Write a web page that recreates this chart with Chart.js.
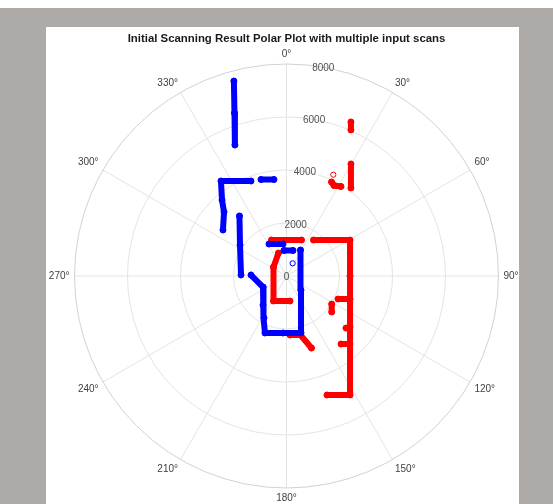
<!DOCTYPE html>
<html>
<head>
<meta charset="utf-8">
<script src="https://cdn.jsdelivr.net/npm/chart.js@4"></script>
<style>
html,body{margin:0;padding:0;background:#fff;}
canvas{display:block;}
</style>
</head>
<body>
<canvas id="c" width="553" height="504"></canvas>
<script>
// ---- data (theta in degrees, clockwise from 0° at top; r in range units) ----
const titleText = 'Initial Scanning Result Polar Plot with multiple input scans';
const angleTicks = [0, 30, 60, 90, 120, 150, 180, 210, 240, 270, 300, 330];
const angleTickLabels = ['0°', '30°', '60°', '90°', '120°', '150°', '180°', '210°', '240°', '270°', '300°', '330°'];
const rTicks = [0, 2000, 4000, 6000, 8000];
const rTickLabels = ['0', '2000', '4000', '6000', '8000'];
const rMax = 8000;

// scan 1 (blue) - null separates wall segments
const blueTheta = [344.9, 342.3, 338.5, null,
  339.5, 325.4, 319.7, 315.7, 305.9, null,
  345.2, 352.6, null,
  321.9, 303.7, 271.3, null,
  271.6, 244.9, 219.0, 208.2, 200.7, 183.5, 165.7, 134.0, 28.3, null,
  331.3, 353.8, null,
  354.4, 14.3];
const blueR = [7621, 6457, 5312, null,
  3827, 4355, 3762, 3376, 2959, null,
  3767, 3672, null,
  2877, 2109, 1717, null,
  1340, 979, 1409, 1798, 2299, 2155, 2220, 760, 1114, null,
  1376, 1215, null,
  967, 993];
const blueSingleTheta = [26.0];
const blueSingleR = [533];

// scan 2 (red)
const redTheta = [22.7, 23.8, null,
  29.9, 36.2, null,
  25.6, 27.7, 31.3, null,
  337.4, 22.6, null,
  36.9, 60.5, 90.0, 151.9, 161.2, null,
  114.1, 109.9, null,
  121.8, 128.5, null,
  131.2, 128.8, null,
  141.3, 137.0, null,
  340.8, 304.7, 207.5, 172.0, null,
  176.6, 166.7, 160.9];
const redR = [6301, 6024, null,
  4878, 4118, null,
  3933, 3857, 3955, null,
  1472, 1472, null,
  1698, 2755, 2397, 5091, 4744, null,
  2129, 2549, null,
  2007, 2181, null,
  2982, 3073, null,
  3289, 3511, null,
  919, 597, 1063, 953, null,
  2231, 2288, 2877];
const redSingleTheta = [24.8];
const redSingleR = [4212];

// ---- helpers ----
function toXY(thetaArr, rArr) {
  return thetaArr.map((t, i) => {
    const r = rArr[i];
    if (t === null || r === null) return {x: null, y: null};
    const a = t * Math.PI / 180;
    return {x: r * Math.sin(a), y: r * Math.cos(a)};
  });
}

const cx0 = 286.5, cy0 = 276, R0 = 212;
const W = 553, H = 504;

const polarPlugin = {
  id: 'polarGrid',
  beforeDraw(chart) {
    const ctx = chart.ctx;
    ctx.save();
    ctx.fillStyle = '#ffffff';
    ctx.fillRect(0, 0, W, H);
    ctx.fillStyle = '#aeaaa8';
    ctx.fillRect(0, 8, W, H - 8);
    ctx.fillStyle = '#ffffff';
    ctx.fillRect(46, 27, 473, H - 27);
    // title
    ctx.fillStyle = '#1a1a1a';
    ctx.font = 'bold 11.4px "Liberation Sans", Arial, sans-serif';
    ctx.textAlign = 'center';
    ctx.textBaseline = 'middle';
    ctx.fillText(titleText, cx0, 39);
    ctx.restore();
  },
  beforeDatasetsDraw(chart) {
    const ctx = chart.ctx;
    const xs = chart.scales.x, ys = chart.scales.y;
    const cx = xs.getPixelForValue(0), cy = ys.getPixelForValue(0);
    const rp = v => xs.getPixelForValue(v) - cx;
    const R = rp(rMax);
    ctx.save();
    ctx.lineWidth = 1;
    // spokes
    ctx.strokeStyle = '#e4e4e4';
    angleTicks.forEach(t => {
      const a = t * Math.PI / 180;
      ctx.beginPath();
      ctx.moveTo(cx, cy);
      ctx.lineTo(cx + R * Math.sin(a), cy - R * Math.cos(a));
      ctx.stroke();
    });
    // circles
    rTicks.forEach(v => {
      if (v <= 0) return;
      ctx.strokeStyle = v === rMax ? '#d2d2d2' : '#e4e4e4';
      ctx.beginPath();
      ctx.arc(cx, cy, rp(v), 0, Math.PI * 2);
      ctx.stroke();
    });
    // angle labels
    ctx.fillStyle = '#404040';
    ctx.font = '10px "Liberation Sans", Arial, sans-serif';
    angleTicks.forEach((t, i) => {
      const a = t * Math.PI / 180;
      const s = Math.sin(a), c = Math.cos(a);
      const g = 5;
      const px = cx + (R + g) * s, py = cy - (R + g) * c;
      ctx.textAlign = s > 0.1 ? 'left' : (s < -0.1 ? 'right' : 'center');
      ctx.textBaseline = c > 0.1 ? 'bottom' : (c < -0.1 ? 'top' : 'middle');
      ctx.fillText(angleTickLabels[i], px, py);
    });
    // range labels along 10°
    const la = 10 * Math.PI / 180;
    ctx.fillStyle = '#505050';
    ctx.textAlign = 'center';
    ctx.textBaseline = 'middle';
    rTicks.forEach((v, i) => {
      const r = rp(v);
      ctx.fillText(rTickLabels[i], cx + r * Math.sin(la), cy - r * Math.cos(la) + 1);
    });
    ctx.restore();
  }
};

const lineDs = (data, color) => ({
  data, showLine: true, spanGaps: false,
  borderColor: color, backgroundColor: color,
  borderWidth: 6, borderCapStyle: 'round', borderJoinStyle: 'round',
  pointRadius: 3, pointBorderWidth: 1, pointBackgroundColor: color, pointHoverRadius: 0, tension: 0
});
const markDs = (data, color) => ({
  data, showLine: false,
  borderColor: color, backgroundColor: 'rgba(0,0,0,0)',
  borderWidth: 1, pointRadius: 2.6, pointStyle: 'circle'
});

new Chart(document.getElementById('c'), {
  type: 'scatter',
  data: {
    datasets: [
      lineDs(toXY(blueTheta, blueR), '#0000ff'),
      markDs(toXY(blueSingleTheta, blueSingleR), '#0000ff'),
      lineDs(toXY(redTheta, redR), '#ff0000'),
      markDs(toXY(redSingleTheta, redSingleR), '#ff0000')
    ]
  },
  options: {
    responsive: false,
    animation: false,
    devicePixelRatio: 1,
    layout: {padding: {left: cx0 - R0, right: W - (cx0 + R0), top: cy0 - R0, bottom: H - (cy0 + R0)}},
    scales: {
      x: {type: 'linear', min: -rMax, max: rMax, display: false},
      y: {type: 'linear', min: -rMax, max: rMax, display: false}
    },
    plugins: {legend: {display: false}, tooltip: {enabled: false}, title: {display: false}}
  },
  plugins: [polarPlugin]
});
</script>
</body>
</html>
